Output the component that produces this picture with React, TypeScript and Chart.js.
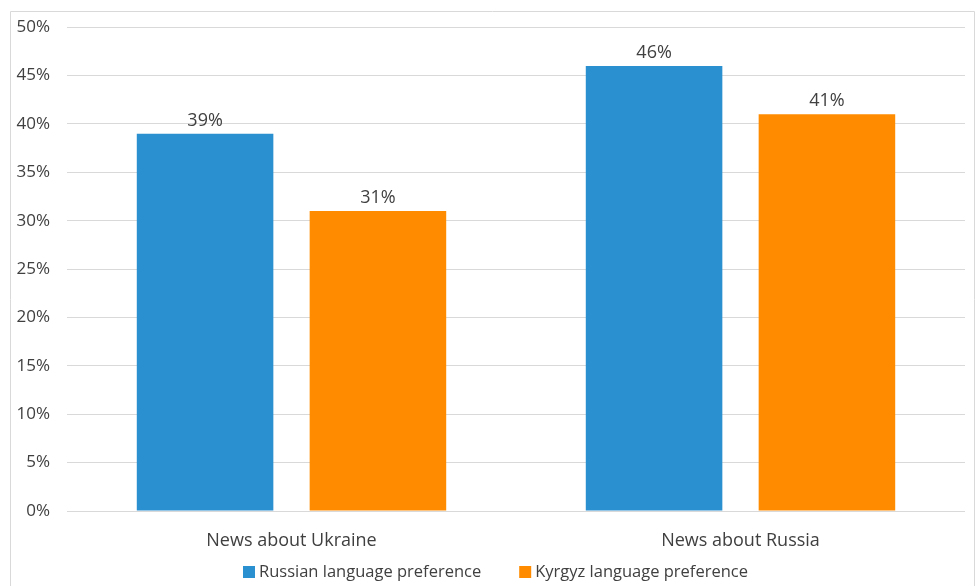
import React, { useEffect, useRef } from "react";
import { Chart, registerables } from "chart.js";

Chart.register(...registerables);

const categories = ["News about Ukraine", "News about Russia"];
const russianPref = [39, 46];
const kyrgyzPref = [31, 41];
const seriesNames = ["Russian language preference", "Kyrgyz language preference"];
const seriesColors = ["#2B90D0", "#FF8C00"];
const yMax = 50;
const yStep = 5;

const FONT = "'Open Sans', 'Noto Sans', sans-serif";
const TEXT = "#404040";

const frame = {
  id: "frame",
  beforeDraw(chart: any) {
    const ctx = chart.ctx;
    ctx.save();
    ctx.strokeStyle = "#d9d9d9";
    ctx.lineWidth = 1;
    ctx.beginPath();
    ctx.moveTo(10.5, chart.height + 5);
    ctx.lineTo(10.5, 11.5);
    ctx.lineTo(974.5, 11.5);
    ctx.lineTo(974.5, chart.height + 5);
    ctx.stroke();
    ctx.restore();
  },
};

const valueLabels = {
  id: "valueLabels",
  afterDatasetsDraw(chart: any) {
    const ctx = chart.ctx;
    ctx.save();
    ctx.fillStyle = TEXT;
    ctx.font = `18px ${FONT}`;
    ctx.textAlign = "center";
    ctx.textBaseline = "bottom";
    chart.data.datasets.forEach((ds: any, i: number) => {
      const meta = chart.getDatasetMeta(i);
      meta.data.forEach((bar: any, j: number) => {
        ctx.fillText(`${ds.data[j]}%`, bar.x, bar.y - 4);
      });
    });
    ctx.restore();
  },
};

const customLegend = {
  id: "customLegend",
  afterDraw(chart: any) {
    const ctx = chart.ctx;
    ctx.save();
    ctx.font = `16.5px ${FONT}`;
    ctx.textBaseline = "middle";
    const box = 12;
    const gap = 4;
    const itemGap = 38;
    const widths = chart.data.datasets.map((ds: any) => box + gap + ctx.measureText(ds.label).width);
    const total = widths.reduce((a: number, b: number) => a + b, 0) + itemGap * (widths.length - 1);
    let x = Math.round(495 - total / 2);
    const cy = 572;
    chart.data.datasets.forEach((ds: any, i: number) => {
      ctx.fillStyle = ds.backgroundColor;
      ctx.fillRect(x, cy - box / 2, box, box);
      ctx.fillStyle = TEXT;
      ctx.fillText(ds.label, x + box + gap, cy);
      x += widths[i] + itemGap;
    });
    ctx.restore();
  },
};

export default function App() {
  const ref = useRef<HTMLCanvasElement>(null);
  useEffect(() => {
    if (!ref.current) return;
    const chart = new Chart(ref.current, {
      type: "bar",
      data: {
        labels: categories,
        datasets: [
          { label: seriesNames[0], data: russianPref, backgroundColor: seriesColors[0] },
          { label: seriesNames[1], data: kyrgyzPref, backgroundColor: seriesColors[1] },
        ],
      },
      options: {
        animation: false,
        responsive: true,
        maintainAspectRatio: false,
        layout: { padding: { left: 10, right: 14, top: 24, bottom: 33 } },
        datasets: { bar: { categoryPercentage: 0.77, barPercentage: 0.79 } },
        scales: {
          x: {
            grid: { display: false },
            border: { display: false },
            ticks: { color: TEXT, font: { family: FONT, size: 18 }, padding: 11 },
            afterFit(axis: any) { axis.height = 42; },
          },
          y: {
            min: 0,
            max: yMax,
            grid: { color: "#d9d9d9", drawTicks: false },
            border: { display: false },
            ticks: {
              stepSize: yStep,
              color: TEXT,
              font: { family: FONT, size: 17 },
              padding: 17,
              callback: (v: any) => `${v}%`,
            },
            afterFit(axis: any) { axis.width = 57; },
          },
        },
        plugins: {
          legend: { display: false },
          tooltip: { enabled: false },
        },
      },
      plugins: [frame, valueLabels, customLegend],
    });
    return () => chart.destroy();
  }, []);
  return (
    <div style={{ position: "absolute", left: 0, top: 0, width: 979, height: 586, background: "#fff" }}>
      <canvas ref={ref} />
    </div>
  );
}
